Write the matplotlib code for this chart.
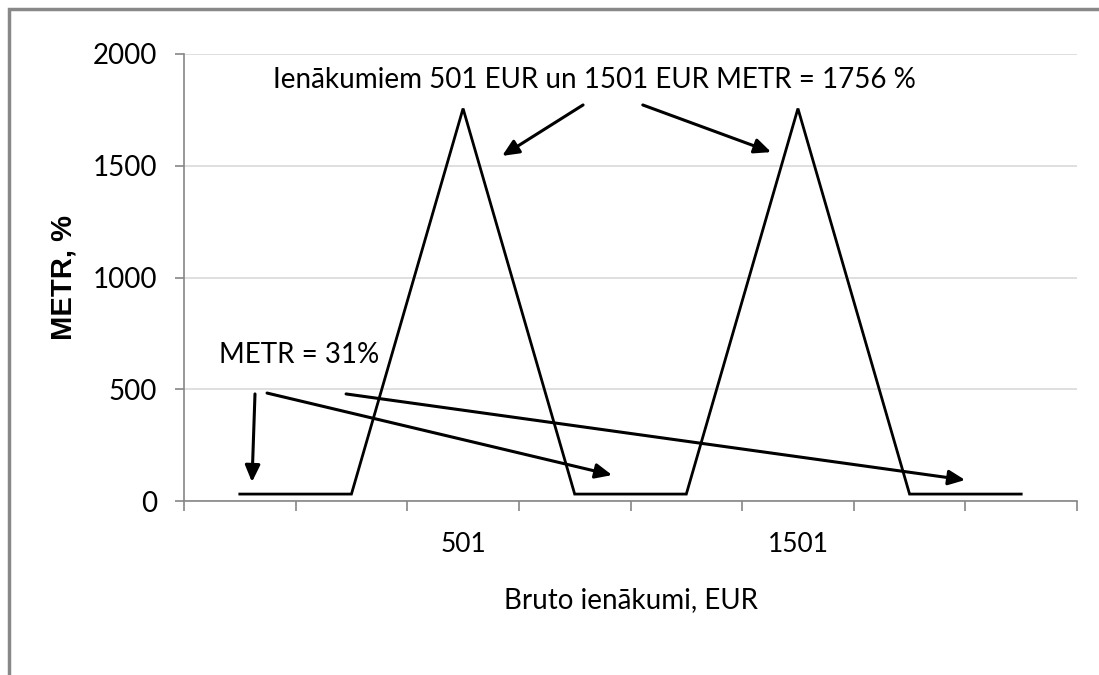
import matplotlib
matplotlib.use("Agg")
import matplotlib.pyplot as plt
from matplotlib.patches import Rectangle

# data: income categories along the x axis, METR in percent
labels = ["", "", "501", "", "", "1501", "", ""]
metr = [31, 31, 1756, 31, 31, 1756, 31, 31]
y_ticks = [0, 500, 1000, 1500, 2000]

narrow = ["Lato", "DejaVu Sans"]

fig = plt.figure(figsize=(10.99, 6.75), dpi=100)
ax = fig.add_axes([184 / 1099, 1 - 501 / 675, (1077 - 184) / 1099, (501 - 54) / 675])

x = list(range(len(metr)))
ax.plot(x, metr, color="black", lw=2.0, solid_joinstyle="miter", zorder=3)

ax.set_xlim(-0.5, len(metr) - 0.5)
ax.set_ylim(0, 2000)
ax.set_yticks(y_ticks)
ax.set_yticklabels([str(t) for t in y_ticks], family=narrow, fontsize=20)
ax.set_xticks(x)
ax.set_xticklabels(labels, family=narrow, fontsize=19)
ax.set_xticks([i - 0.5 for i in range(len(metr) + 1)], minor=True)
ax.tick_params(axis="x", which="major", length=0, pad=22)
ax.tick_params(axis="x", which="minor", length=7, color="#868686", width=1.2)
ax.tick_params(axis="y", length=6.5, color="#868686", width=1.2, pad=13)
ax.grid(axis="y", color="#d9d9d9", lw=1.2, zorder=0)
ax.set_axisbelow(True)
for s in ["top", "right"]:
    ax.spines[s].set_visible(False)
for s in ["left", "bottom"]:
    ax.spines[s].set_color("#868686")
    ax.spines[s].set_linewidth(1.2)

ax.set_xlabel("Bruto ienākumi, EUR", family=narrow, fontsize=20, labelpad=22)
ax.set_ylabel("METR, %", family=["Liberation Sans", "DejaVu Sans"], fontsize=21,
              fontweight="bold", labelpad=11)

# annotations
ax.text(3.174, 1884, "Ienākumiem 501 EUR un 1501 EUR METR = 1756 %", family=narrow,
        fontsize=20, ha="center", va="center")
ax.text(0.53, 653, "METR = 31%", family=narrow, fontsize=20, ha="center", va="center")

arrow = dict(arrowstyle="-|>,head_length=1.0,head_width=0.45", color="black", lw=2.2,
             shrinkA=0, shrinkB=0)
arrows = [
    ((3.075, 1772), (2.35, 1544)),
    ((3.61, 1772), (4.76, 1561)),
    ((0.136, 479), (0.109, 85)),
    ((0.244, 483), (3.335, 116)),
    ((0.952, 479), (6.498, 94)),
]
for start, end in arrows:
    ax.annotate("", xy=end, xytext=start, arrowprops=arrow)

# grey frame round the chart area
fig.patches.append(Rectangle((9 / 1099, -0.1), 1.2, 1 - 9 / 675 + 0.1, transform=fig.transFigure,
                             fill=False, edgecolor="#888888", lw=2.5))

fig.savefig("out.png", dpi=100)
